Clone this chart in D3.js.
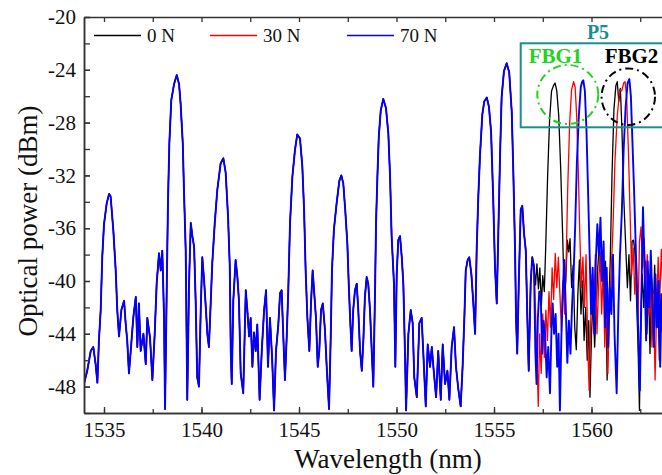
<!DOCTYPE html>
<html>
<head>
<meta charset="utf-8">
<script src="https://cdn.jsdelivr.net/npm/d3@7"></script>
<style>
html,body{margin:0;padding:0;background:#fff;}
svg{display:block;}
svg text{font-family:"Liberation Serif","Times New Roman",serif !important;}
</style>
</head>
<body>
<svg id="chart" width="662" height="475"></svg>
<script>
// ---- data ----
const seriesNames = ["0 N", "30 N", "70 N"];
const xTicks = [1535, 1540, 1545, 1550, 1555, 1560];
const yTicks = [-48, -44, -40, -36, -32, -28, -24, -20];

// shared part of the spectrum (all three loads coincide here)
const commonWl = [1533.97,1534.14,1534.32,1534.45,1534.57,1534.66,1534.74,1534.83,1534.91,1535.00,1535.14,1535.26,1535.34,1535.48,1535.60,1535.68,1535.77,1535.89,1536.03,1536.11,1536.19,1536.28,1536.37,1536.50,1536.63,1536.71,1536.79,1536.88,1537.02,1537.14,1537.22,1537.36,1537.48,1537.60,1537.70,1537.82,1537.91,1537.99,1538.08,1538.13,1538.22,1538.28,1538.35,1538.45,1538.59,1538.73,1538.85,1538.93,1539.04,1539.10,1539.19,1539.27,1539.36,1539.45,1539.53,1539.62,1539.70,1539.78,1539.87,1539.96,1540.04,1540.13,1540.22,1540.30,1540.38,1540.47,1540.55,1540.68,1540.81,1540.98,1541.12,1541.24,1541.36,1541.45,1541.50,1541.55,1541.63,1541.75,1541.84,1541.92,1542.01,1542.14,1542.27,1542.35,1542.44,1542.52,1542.61,1542.69,1542.78,1542.86,1542.98,1543.09,1543.21,1543.31,1543.41,1543.51,1543.62,1543.72,1543.82,1543.94,1544.03,1544.11,1544.19,1544.28,1544.37,1544.45,1544.54,1544.66,1544.79,1544.91,1545.05,1545.17,1545.26,1545.34,1545.43,1545.53,1545.62,1545.70,1545.78,1545.87,1545.96,1546.04,1546.13,1546.22,1546.33,1546.42,1546.54,1546.63,1546.69,1546.79,1546.93,1547.07,1547.17,1547.27,1547.37,1547.48,1547.55,1547.62,1547.70,1547.78,1547.87,1547.96,1548.04,1548.13,1548.22,1548.30,1548.38,1548.47,1548.55,1548.64,1548.73,1548.81,1548.90,1548.95,1549.02,1549.09,1549.19,1549.32,1549.46,1549.58,1549.67,1549.75,1549.87,1549.94,1550.01,1550.09,1550.18,1550.27,1550.35,1550.44,1550.49,1550.61,1550.73,1550.83,1550.91,1551.04,1551.17,1551.29,1551.37,1551.50,1551.60,1551.72,1551.81,1551.89,1552.03,1552.14,1552.27,1552.37,1552.49,1552.61,1552.71,1552.83,1552.95,1553.05,1553.17,1553.29,1553.39,1553.48,1553.55,1553.65,1553.73,1553.84,1553.94,1554.03,1554.11,1554.19,1554.28,1554.40,1554.50,1554.63,1554.74,1554.85,1554.96,1555.05,1555.14,1555.22,1555.31,1555.39,1555.51,1555.65,1555.78,1555.91,1555.99,1556.08,1556.13,1556.19,1556.27,1556.37,1556.45,1556.54,1556.63,1556.71,1556.78,1556.88,1556.96];
const commonDbm = [-47.8,-46.8,-45.3,-45.0,-46.3,-47.7,-44.5,-42.2,-38.2,-35.7,-34.1,-33.4,-33.6,-36.2,-39.2,-42.2,-44.2,-42.2,-41.5,-43.2,-44.5,-47.0,-45.3,-42.8,-41.2,-45.0,-41.7,-45.3,-44.0,-46.3,-42.8,-44.3,-47.5,-44.0,-40.2,-37.9,-39.2,-37.7,-42.8,-49.7,-40.2,-34.1,-29.6,-26.3,-25.1,-24.4,-25.1,-26.6,-29.6,-33.1,-37.7,-49.0,-40.2,-35.6,-36.6,-37.4,-41.5,-47.3,-48.0,-42.2,-38.2,-39.9,-42.0,-44.0,-45.0,-41.7,-38.7,-35.6,-33.1,-31.1,-30.7,-31.8,-35.1,-38.9,-45.3,-47.8,-41.5,-38.4,-39.7,-41.5,-47.0,-48.5,-40.7,-42.2,-44.2,-42.8,-46.5,-43.9,-45.3,-43.3,-49.0,-45.3,-42.2,-40.7,-46.5,-42.8,-45.8,-49.8,-45.3,-43.3,-40.9,-40.7,-44.0,-47.5,-44.2,-40.7,-35.6,-32.1,-30.1,-28.9,-29.2,-31.3,-34.6,-39.2,-42.8,-45.3,-41.5,-39.2,-40.9,-42.8,-46.5,-45.3,-42.2,-41.7,-43.7,-46.5,-49.7,-44.0,-39.2,-36.1,-34.1,-32.4,-32.0,-32.6,-34.6,-37.2,-40.2,-42.8,-45.3,-42.2,-40.7,-40.2,-42.2,-45.3,-46.8,-44.5,-41.2,-39.7,-40.2,-42.2,-45.3,-48.0,-40.7,-35.6,-32.1,-29.1,-27.1,-26.2,-26.9,-28.8,-32.1,-36.6,-40.2,-46.5,-39.5,-36.9,-36.6,-38.2,-40.2,-45.8,-49.8,-44.0,-42.2,-43.2,-47.3,-48.8,-43.2,-42.8,-45.3,-49.5,-44.8,-46.5,-45.0,-46.5,-48.8,-45.3,-49.0,-44.8,-47.8,-46.8,-49.0,-45.0,-43.5,-46.5,-48.2,-49.5,-46.5,-42.8,-39.2,-38.4,-38.2,-39.5,-41.7,-44.0,-37.7,-33.8,-30.5,-27.4,-26.4,-26.1,-26.8,-28.7,-33.8,-38.9,-41.7,-36.4,-30.5,-26.1,-24.1,-23.5,-24.2,-27.2,-31.7,-37.7,-42.8,-45.5,-40.2,-34.6,-34.3,-36.4,-37.7,-42.8,-46.8,-40.2,-38.2,-38.9];

// part where the FBG peaks move with load
const tail0N = [[1557.05,-38.9],[1557.13,-40.3],[1557.2,-38.7],[1557.28,-40.6],[1557.35,-39.0],[1557.43,-41.8],[1557.5,-39.6],[1557.58,-40.8],[1557.65,-37.5],[1557.75,-32.0],[1557.85,-27.8],[1557.95,-25.6],[1558.05,-25.2],[1558.13,-25.0],[1558.22,-25.6],[1558.32,-27.5],[1558.42,-31.5],[1558.52,-36.5],[1558.6,-41.2],[1558.68,-40.0],[1558.76,-36.9],[1558.83,-37.8],[1558.9,-36.8],[1558.98,-40.5],[1559.06,-38.8],[1559.14,-43.5],[1559.22,-45.2],[1559.3,-41.0],[1559.38,-38.4],[1559.46,-42.5],[1559.54,-40.0],[1559.62,-44.5],[1559.7,-42.0],[1559.78,-46.0],[1559.86,-43.0],[1559.92,-48.8],[1560.0,-44.0],[1560.08,-41.5],[1560.16,-45.0],[1560.24,-42.2],[1560.32,-39.0],[1560.4,-37.2],[1560.48,-39.5],[1560.56,-37.8],[1560.64,-40.2],[1560.72,-38.5],[1560.8,-47.5],[1560.88,-42.0],[1560.96,-38.5],[1561.05,-32.0],[1561.15,-27.0],[1561.25,-25.2],[1561.32,-24.9],[1561.4,-26.4],[1561.48,-25.4],[1561.56,-28.5],[1561.65,-33.5],[1561.75,-37.2],[1561.84,-40.5],[1561.92,-38.0],[1562.0,-41.5],[1562.08,-37.0],[1562.15,-36.9],[1562.22,-37.6],[1562.3,-41.0],[1562.38,-44.5],[1562.46,-49.8],[1562.52,-43.0],[1562.6,-39.5],[1562.68,-42.0],[1562.76,-38.5],[1562.84,-44.0],[1562.92,-40.0],[1563.0,-45.5],[1563.08,-39.8],[1563.16,-42.5],[1563.24,-38.8],[1563.32,-43.5],[1563.4,-40.5],[1563.48,-46.0],[1563.56,-41.0],[1563.64,-43.5],[1563.72,-40.0]];
const tail30N = [[1557.05,-38.9],[1557.12,-42.0],[1557.2,-45.5],[1557.27,-49.5],[1557.34,-44.0],[1557.42,-47.0],[1557.5,-42.5],[1557.58,-45.8],[1557.66,-42.2],[1557.74,-44.5],[1557.82,-40.8],[1557.9,-43.5],[1557.98,-39.0],[1558.06,-41.4],[1558.14,-37.9],[1558.22,-40.5],[1558.3,-38.2],[1558.38,-41.0],[1558.46,-43.8],[1558.54,-40.0],[1558.62,-42.5],[1558.7,-38.5],[1558.78,-33.0],[1558.88,-28.0],[1558.98,-25.5],[1559.08,-24.9],[1559.16,-25.3],[1559.24,-27.5],[1559.32,-31.5],[1559.4,-36.5],[1559.48,-40.5],[1559.56,-38.2],[1559.64,-42.0],[1559.72,-38.0],[1559.8,-44.5],[1559.88,-48.3],[1559.96,-43.0],[1560.04,-39.5],[1560.12,-41.8],[1560.2,-38.0],[1560.28,-44.0],[1560.36,-40.5],[1560.44,-37.8],[1560.52,-42.5],[1560.6,-39.0],[1560.68,-45.0],[1560.76,-41.5],[1560.84,-47.0],[1560.92,-42.0],[1561.0,-39.5],[1561.1,-36.0],[1561.2,-31.0],[1561.32,-27.5],[1561.45,-25.5],[1561.55,-25.6],[1561.65,-25.0],[1561.72,-24.9],[1561.8,-26.0],[1561.9,-30.5],[1561.98,-35.0],[1562.06,-39.5],[1562.14,-37.5],[1562.22,-41.0],[1562.3,-38.5],[1562.38,-43.0],[1562.46,-37.0],[1562.54,-35.9],[1562.62,-39.0],[1562.7,-36.8],[1562.78,-40.2],[1562.86,-38.0],[1562.94,-42.5],[1563.02,-39.5],[1563.1,-45.0],[1563.18,-41.0],[1563.26,-47.5],[1563.34,-42.0],[1563.42,-38.2],[1563.5,-41.5],[1563.58,-37.6],[1563.66,-40.5],[1563.72,-39.0]];
const tail70N = [[1557.05,-38.9],[1557.12,-45.3],[1557.18,-47.8],[1557.25,-42.8],[1557.32,-40.8],[1557.4,-41.4],[1557.47,-45.5],[1557.54,-43.0],[1557.62,-44.0],[1557.7,-47.3],[1557.78,-45.0],[1557.87,-48.5],[1557.95,-43.5],[1558.01,-41.7],[1558.08,-44.0],[1558.16,-42.5],[1558.24,-46.5],[1558.31,-44.0],[1558.38,-49.8],[1558.45,-44.5],[1558.52,-41.0],[1558.6,-38.4],[1558.68,-42.0],[1558.76,-46.2],[1558.84,-43.0],[1558.92,-45.5],[1559.0,-42.0],[1559.08,-39.5],[1559.16,-36.0],[1559.25,-31.0],[1559.35,-27.5],[1559.45,-25.3],[1559.52,-24.9],[1559.58,-24.8],[1559.66,-25.6],[1559.74,-28.5],[1559.82,-33.0],[1559.9,-37.7],[1559.98,-42.5],[1560.06,-39.0],[1560.14,-44.0],[1560.22,-38.5],[1560.3,-35.7],[1560.38,-38.0],[1560.46,-35.2],[1560.54,-40.0],[1560.62,-37.0],[1560.7,-43.5],[1560.78,-39.0],[1560.86,-45.0],[1560.94,-40.5],[1561.02,-42.5],[1561.1,-38.0],[1561.18,-44.0],[1561.29,-48.5],[1561.38,-42.0],[1561.46,-38.0],[1561.55,-35.0],[1561.65,-30.0],[1561.75,-26.8],[1561.85,-25.0],[1561.94,-24.7],[1562.02,-26.0],[1562.1,-29.5],[1562.18,-33.0],[1562.25,-36.5],[1562.32,-40.0],[1562.4,-44.0],[1562.48,-48.3],[1562.56,-41.0],[1562.64,-34.4],[1562.72,-39.0],[1562.8,-44.5],[1562.88,-38.5],[1562.96,-42.0],[1563.04,-37.7],[1563.12,-41.5],[1563.2,-45.0],[1563.28,-39.5],[1563.36,-43.5],[1563.44,-40.0],[1563.52,-46.5],[1563.6,-41.0],[1563.68,-44.5],[1563.74,-40.5]];

// ---- build ----
(function () {
const common = commonWl.map((w, i) => [w, commonDbm[i]]);
const series = [
  {name: seriesNames[0], color: "#000000", width: 1.3, pts: common.concat(tail0N)},
  {name: seriesNames[1], color: "#ff0000", width: 1.3, pts: common.concat(tail30N)},
  {name: seriesNames[2], color: "#0000ff", width: 1.9, pts: common.concat(tail70N)}
];

const svg = d3.select("#chart");
const L = 84, R = 662, T = 17, B = 413;
const x = d3.scaleLinear().domain([1533.974, 1563.615]).range([L, R]);
const y = d3.scaleLinear().domain([-50, -20]).range([B, T]);

svg.append("defs").append("clipPath").attr("id", "clip")
  .append("rect").attr("x", L).attr("y", T).attr("width", R - L).attr("height", B - T);

const line = d3.line().x(d => x(d[0])).y(d => y(d[1]));
const g = svg.append("g").attr("clip-path", "url(#clip)");
series.forEach(s => {
  g.append("path").datum(s.pts).attr("d", line)
    .attr("fill", "none").attr("stroke", s.color)
    .attr("stroke-width", s.width).attr("stroke-linejoin", "round");
});

// axes
const axisColor = "#333";
const xMinor = d3.range(1535, 1564, 2.5);
const yMinor = d3.range(-50, -19, 2);
const serif = '"Liberation Serif", "Times New Roman", serif';
const fmt = d => String(d);

const axB = svg.append("g").attr("transform", `translate(0,${B})`)
  .call(d3.axisBottom(x).tickValues(xTicks).tickFormat(fmt).tickSizeInner(-6).tickSizeOuter(0).tickPadding(9));
const axBm = svg.append("g").attr("transform", `translate(0,${B})`)
  .call(d3.axisBottom(x).tickValues(xMinor).tickFormat("").tickSizeInner(-4).tickSizeOuter(0));
const axT = svg.append("g").attr("transform", `translate(0,${T})`)
  .call(d3.axisTop(x).tickValues(xMinor).tickFormat("").tickSizeInner(-5).tickSizeOuter(0));
const axL = svg.append("g").attr("transform", `translate(${L},0)`)
  .call(d3.axisLeft(y).tickValues(yTicks).tickFormat(fmt).tickSizeInner(-6).tickSizeOuter(0).tickPadding(8));
const axLm = svg.append("g").attr("transform", `translate(${L},0)`)
  .call(d3.axisLeft(y).tickValues(yMinor).tickFormat("").tickSizeInner(-6).tickSizeOuter(0));

[axB, axBm, axT, axL, axLm].forEach(a => {
  a.attr("font-family", serif).attr("font-size", 21);
  a.selectAll(".domain").attr("stroke", axisColor).attr("stroke-width", 1.5);
  a.selectAll(".tick line").attr("stroke", axisColor).attr("stroke-width", 1.3);
  a.selectAll(".tick text").attr("fill", "#111");
});

// axis titles
svg.append("text").attr("x", (L + R) / 2 + 15).attr("y", 468).attr("text-anchor", "middle")
  .attr("font-size", 27).attr("fill", "#111").text("Wavelength (nm)");
svg.append("text").attr("transform", "translate(37,221) rotate(-90)").attr("text-anchor", "middle")
  .attr("font-size", 27).attr("fill", "#111").text("Optical power (dBm)");

// legend
const legX = [94, 210, 347];
series.forEach((s, i) => {
  svg.append("line").attr("x1", legX[i]).attr("x2", legX[i] + 47).attr("y1", 35.5).attr("y2", 35.5)
    .attr("stroke", s.color).attr("stroke-width", 1.5);
  svg.append("text").attr("x", legX[i] + 53).attr("y", 42).attr("font-size", 19).attr("fill", "#111").text(s.name);
});

// inset annotation
const teal = "#1a8f8f";
svg.append("rect").attr("x", 520.7).attr("y", 43.3).attr("width", 160).attr("height", 84)
  .attr("fill", "none").attr("stroke", teal).attr("stroke-width", 2);
svg.append("text").attr("x", 598).attr("y", 39).attr("text-anchor", "middle")
  .attr("font-size", 20).attr("font-weight", "bold").attr("fill", teal).text("P5");
svg.append("text").attr("x", 555.5).attr("y", 63.3).attr("text-anchor", "middle")
  .attr("font-size", 21).attr("font-weight", "bold").attr("fill", "#1fd41f").text("FBG1");
svg.append("text").attr("x", 631.5).attr("y", 63.3).attr("text-anchor", "middle")
  .attr("font-size", 21).attr("font-weight", "bold").attr("fill", "#000").text("FBG2");
svg.append("ellipse").attr("cx", 567.8).attr("cy", 94.5).attr("rx", 30.5).attr("ry", 29.5)
  .attr("fill", "none").attr("stroke", "#1fd41f").attr("stroke-width", 2).attr("stroke-dasharray", "8,4,2,4");
svg.append("ellipse").attr("cx", 628.3).attr("cy", 96.7).attr("rx", 26.7).attr("ry", 28.3)
  .attr("fill", "none").attr("stroke", "#000").attr("stroke-width", 2).attr("stroke-dasharray", "8,4,2,4");
})();
</script>
</body>
</html>
